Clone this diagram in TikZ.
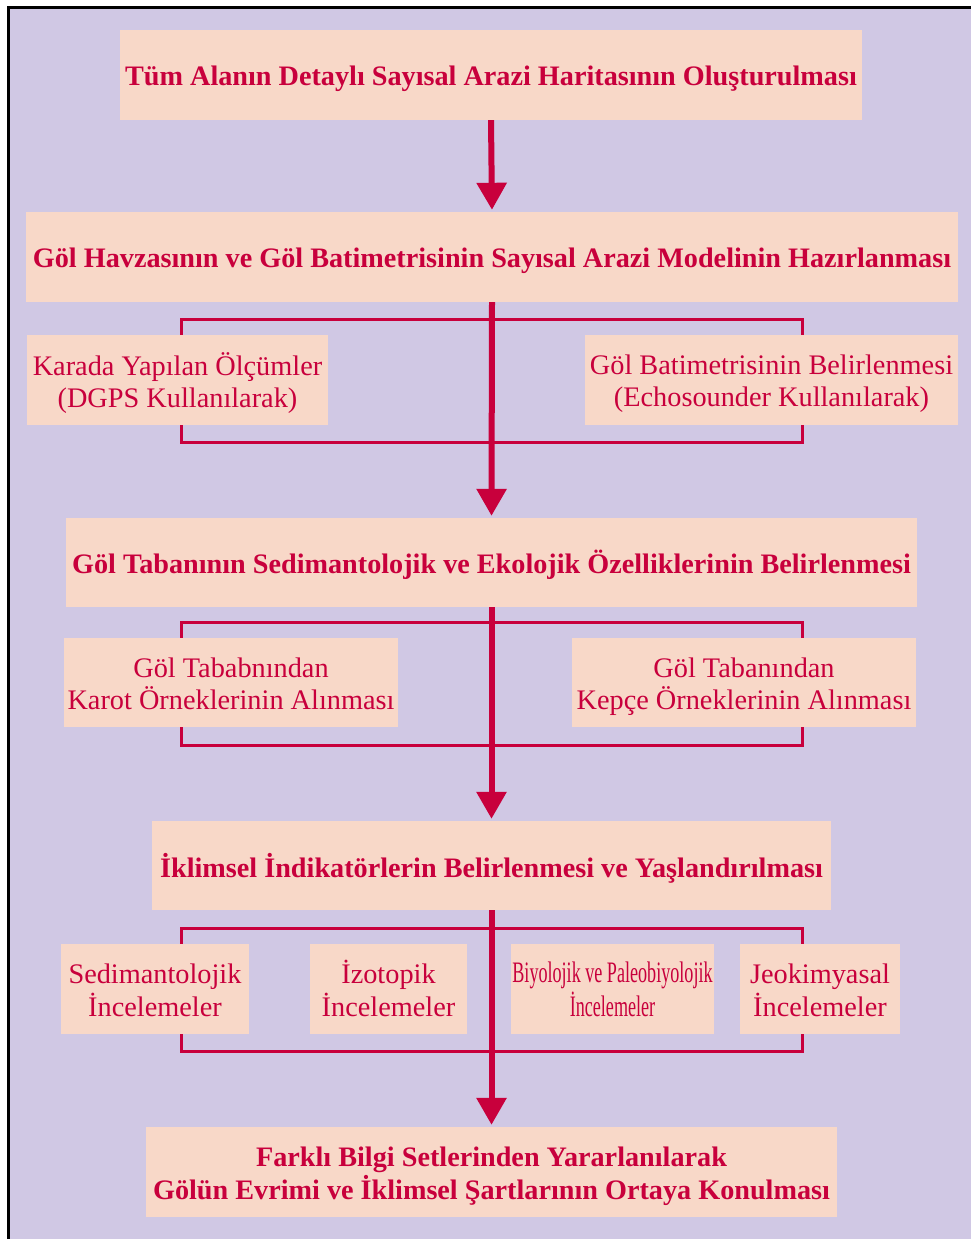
\documentclass[tikz,border=0pt]{standalone}
\usepackage{fontspec}
\setmainfont{Liberation Serif}
\usetikzlibrary{arrows.meta}
\definecolor{bgpurple}{RGB}{208,200,228}
\definecolor{boxpink}{RGB}{248,216,200}
\definecolor{crim}{RGB}{200,0,60}
\newcommand{\dntxt}[1]{\raisebox{-4.5pt}[\height][\depth]{\begin{tabular}{@{}c@{}}#1\end{tabular}}}
\tikzset{
  head/.style={fill=boxpink, text=crim, font=\fontsize{28.2}{32}\selectfont\bfseries, inner sep=0pt},
  sub/.style={fill=boxpink, text=crim, font=\fontsize{28.3}{32}\selectfont, inner sep=0pt},
  flow/.style={draw=crim, line width=6pt, -{Triangle[width=29pt,length=27pt]}, shorten >=2pt},
  brack/.style={draw=crim, line width=3pt}
}
\begin{document}
\begin{tikzpicture}[x=1pt,y=-1pt]
\useasboundingbox (0,0) rectangle (971,1239);
\fill[bgpurple] (8.5,7.5) rectangle (971,1239);
\draw[black, line width=3pt] (8.5,1239) -- (8.5,7.5) -- (971,7.5);
% brackets
\draw[brack] (181,319) rectangle (802,442);
\draw[brack] (181,622) rectangle (802,745);
\draw[brack] (181,928) rectangle (802,1051);
% main boxes
\node[head, minimum width=742pt, minimum height=90pt] (b1) at (491,75) {\dntxt{Tüm Alanın Detaylı Sayısal Arazi Haritasının Oluşturulması}};
\node[head, minimum width=932pt, minimum height=90pt] (b2) at (492,257) {\dntxt{Göl Havzasının ve Göl Batimetrisinin Sayısal Arazi Modelinin Hazırlanması}};
\node[head, minimum width=851pt, minimum height=89pt] (b3) at (491.5,562.5) {\dntxt{Göl Tabanının Sedimantolojik ve Ekolojik Özelliklerinin Belirlenmesi}};
\node[head, minimum width=679pt, minimum height=89pt] (b4) at (491.5,865.5) {\dntxt{İklimsel İndikatörlerin Belirlenmesi ve Yaşlandırılması}};
\node[head, minimum width=691pt, minimum height=90pt] (b5) at (491.5,1172) {\dntxt{Farklı Bilgi Setlerinden Yararlanılarak\\Gölün Evrimi ve İklimsel Şartlarının Ortaya Konulması}};
% arrows
\draw[flow] (b1.south) -- (b2.north);
\draw[flow] (b2.south) -- (b3.north);
\draw[flow] (b3.south) -- (b4.north);
\draw[flow] (b4.south) -- (b5.north);
% sub boxes
\node[sub, minimum width=301pt, minimum height=90pt] (s1) at (177.5,380) {\dntxt{Karada Yapılan Ölçümler\\(DGPS Kullanılarak)}};
\node[sub, minimum width=373pt, minimum height=90pt] (s2) at (771.5,380) {\dntxt{Göl Batimetrisinin Belirlenmesi\\(Echosounder Kullanılarak)}};
\node[sub, minimum width=334pt, minimum height=89pt] (s3) at (231,682.5) {\dntxt{Göl Tababnından\\Karot Örneklerinin Alınması}};
\node[sub, minimum width=344pt, minimum height=89pt] (s4) at (744,682.5) {\dntxt{Göl Tabanından\\Kepçe Örneklerinin Alınması}};
\node[sub, minimum width=188pt, minimum height=90pt] (s5) at (155,989) {\dntxt{Sedimantolojik\\İncelemeler}};
\node[sub, minimum width=157pt, minimum height=90pt] (s6) at (388.5,989) {\dntxt{İzotopik\\İncelemeler}};
\node[sub, minimum width=203pt, minimum height=90pt] (s7) at (612.5,989) {\dntxt{\scalebox{0.64}[1.05]{Biyolojik ve Paleobiyolojik}\\\scalebox{0.64}[1.05]{İncelemeler}}};
\node[sub, minimum width=160pt, minimum height=90pt] (s8) at (820,989) {\dntxt{Jeokimyasal\\İncelemeler}};
\end{tikzpicture}
\end{document}
